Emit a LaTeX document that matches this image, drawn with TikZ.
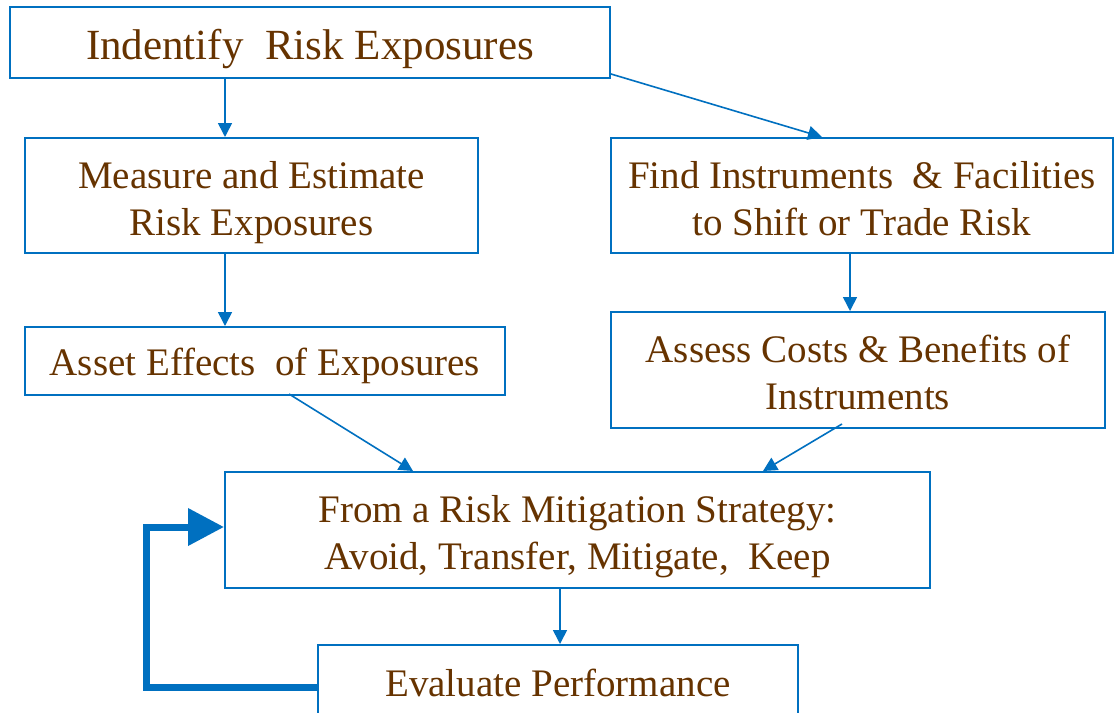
\documentclass[tikz,border=0pt]{standalone}
\usepackage{fontspec}
\setmainfont{Liberation Serif}
\usetikzlibrary{arrows.meta,calc}
\definecolor{lineblue}{RGB}{0,112,192}
\definecolor{textbrown}{RGB}{102,51,0}
\begin{document}
\begin{tikzpicture}[x=1pt,y=-1pt,
  box/.style={draw=lineblue,line width=2pt,rectangle,inner sep=0pt},
  txt/.style={align=center,text=textbrown,inner sep=0pt,font=\fontsize{39}{47}\selectfont},
  link/.style={draw=lineblue,line width=1.6pt,-{Triangle[width=14pt,length=14pt]}},
  loopback/.style={draw=lineblue,line width=7pt,-{Triangle[width=36pt,length=36pt]}}]
\useasboundingbox (0,0) rectangle (1115,712);
\clip (0,0) rectangle (1115,712);
\fill[white] (0,0) rectangle (1115,712);

\node[box,minimum width=600pt,minimum height=71pt,
  label={[txt,yshift=-7pt,font=\fontsize{43}{50}\selectfont]center:{Indentify\ \ Risk Exposures}}]
  (b1) at (310,42.5) {};
\node[box,minimum width=453pt,minimum height=115pt,
  label={[txt,yshift=-7pt]center:{Measure and Estimate\\Risk Exposures}}]
  (b2) at (251.5,195.5) {};
\node[box,minimum width=502pt,minimum height=115pt,
  label={[txt,yshift=-3pt]center:{Find Instruments\ \ \& Facilities\\to Shift or Trade Risk}}]
  (b3) at (862,195.5) {};
\node[box,minimum width=480pt,minimum height=68pt,
  label={[txt,yshift=-5pt]center:{Asset Effects\ \ of Exposures}}]
  (b4) at (265,361) {};
\node[box,minimum width=494pt,minimum height=116pt,
  label={[txt,yshift=-2pt]center:{Assess Costs \& Benefits of\\Instruments}}]
  (b5) at (858,370) {};
\node[box,minimum width=705pt,minimum height=116pt,
  label={[txt,yshift=-7pt]center:{From a Risk Mitigation Strategy:\\Avoid, Transfer, Mitigate,\ \ Keep}}]
  (b6) at (577.5,530) {};
\node[box,minimum width=480pt,minimum height=76pt,
  label={[txt]center:{Evaluate Performance}}]
  (b7) at (558,683) {};

% connectors between the steps
\draw[link] (b1.south -| 225,0) -- (b2.north -| 225,0);
\draw[link] ($(b1.south east)+(0,-5)$) -- (b3.north -| 822,0);
\draw[link] (b2.south -| 225,0) -- (b4.north -| 225,0);
\draw[link] (b3.south -| 850,0) -- (b5.north -| 850,0);
\draw[link] ($(b4.south west)+(265,-2)$) -- (b6.north -| 413,0);
\draw[link] ($(b5.south west)+(232,-5)$) -- (b6.north -| 763,0);
\draw[link] (b6.south -| 560,0) -- (b7.north -| 560,0);

% feedback loop back to the strategy
\coordinate (lb) at (146,687);
\coordinate (lt) at (146,527);
\draw[loopback] (b7.west |- lb) -- (lb) -- (lt) -- (b6.west |- lt);
\end{tikzpicture}
\end{document}
